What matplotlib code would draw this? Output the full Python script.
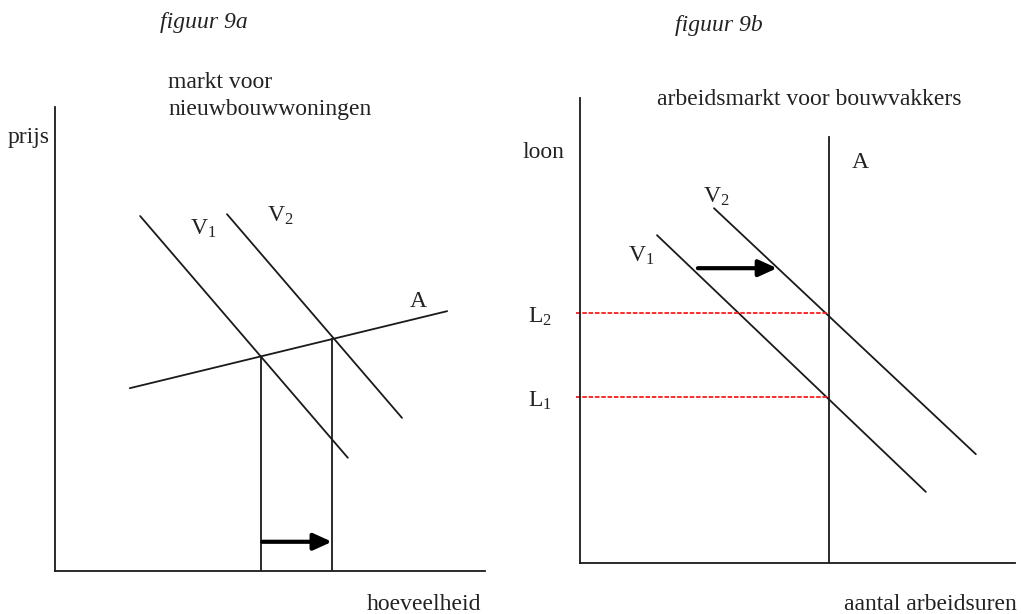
import matplotlib
matplotlib.use("Agg")
import matplotlib.pyplot as plt

plt.rcParams['font.family'] = ['Liberation Serif', 'DejaVu Serif']
plt.rcParams['mathtext.fontset'] = 'custom'
plt.rcParams['mathtext.rm'] = 'Liberation Serif'
plt.rcParams['mathtext.it'] = 'Liberation Serif:italic'

# --- figuur 9a: markt voor nieuwbouwwoningen (schematic units 0..10) ---
v1_a_x = [1.98, 6.81]
v1_a_y = [7.65, 2.44]
v2_a_x = [4.00, 8.07]
v2_a_y = [7.69, 3.30]
aanbod_a_x = [1.74, 9.12]
aanbod_a_y = [3.94, 5.60]
evenwicht_q = [4.79, 6.44]   # hoeveelheid bij V1 en V2
evenwicht_p = [4.61, 5.00]   # prijs bij V1 en V2
pijl_a_y = 0.63

# --- figuur 9b: arbeidsmarkt voor bouwvakkers ---
aanbod_b_x = 5.72
aanbod_b_top = 9.16
v1_b_x = [1.77, 7.95]
v1_b_y = [7.05, 1.53]
v2_b_x = [3.08, 9.10]
v2_b_y = [7.63, 2.34]
lonen = [3.57, 5.38]          # L1, L2
loon_labels = [r'$\mathrm{L}_{1}$', r'$\mathrm{L}_{2}$']
pijl_b_x = [2.71, 4.53]
pijl_b_y = 6.34

W, H = 1023, 614
fig = plt.figure(figsize=(W / 100, H / 100), dpi=100)
fig.patch.set_facecolor('white')

ink = '#1a1a1a'
txt = '#222222'
fs = 17


def make_axes(x0, y0, x1, y1):
    # x0,y0 = origin in pixels (y from top), x1 = end of x-axis, y1 = top of y-axis
    ax = fig.add_axes([x0 / W, 1 - y0 / H, (x1 - x0) / W, (y0 - y1) / H])
    ax.set_xlim(0, 10)
    ax.set_ylim(0, 10)
    for side in ['top', 'right']:
        ax.spines[side].set_visible(False)
    for side in ['left', 'bottom']:
        ax.spines[side].set_color(ink)
        ax.spines[side].set_linewidth(1.3)
    ax.set_xticks([])
    ax.set_yticks([])
    ax.patch.set_alpha(0)
    return ax


def arrow(ax, x0, x1, y):
    ax.annotate('', xy=(x1, y), xytext=(x0, y),
                arrowprops=dict(arrowstyle='-|>,head_length=0.55,head_width=0.25',
                                lw=3.0, color='black', mutation_scale=20,
                                shrinkA=0, shrinkB=0))


def label(ax, x, y, s, **kw):
    ax.text(x, y, s, fontsize=fs, color=txt, va='baseline', clip_on=False, **kw)


# ---------------- figuur 9a ----------------
ax = make_axes(55, 571, 485, 107)
ax.plot(v1_a_x, v1_a_y, color=ink, lw=1.3, solid_capstyle='round')
ax.plot(v2_a_x, v2_a_y, color=ink, lw=1.3, solid_capstyle='round')
ax.plot(aanbod_a_x, aanbod_a_y, color=ink, lw=1.3, solid_capstyle='round')
for q, p in zip(evenwicht_q, evenwicht_p):
    ax.plot([q, q], [0, p], color=ink, lw=1.3)
arrow(ax, evenwicht_q[0] + 0.03, evenwicht_q[1], pijl_a_y)

label(ax, 3.14, 7.24, r'$\mathrm{V}_{1}$')
label(ax, 4.93, 7.52, r'$\mathrm{V}_{2}$')
label(ax, 8.26, 5.69, 'A')
label(ax, -0.12, 9.22, 'prijs', ha='right')
label(ax, 9.91, -0.84, 'hoeveelheid', ha='right')
label(ax, 2.44, 11.70, 'figuur 9a', style='italic')
label(ax, 2.63, 10.41, 'markt voor')
label(ax, 2.63, 9.83, 'nieuwbouwwoningen')

# ---------------- figuur 9b ----------------
bx = make_axes(580, 563, 1015, 98)
bx.plot([aanbod_b_x, aanbod_b_x], [0, aanbod_b_top], color=ink, lw=1.3)
bx.plot(v1_b_x, v1_b_y, color=ink, lw=1.3, solid_capstyle='round')
bx.plot(v2_b_x, v2_b_y, color=ink, lw=1.3, solid_capstyle='round')
for l, s in zip(lonen, loon_labels):
    bx.plot([-0.09, aanbod_b_x], [l, l], color='#ff1a1a', lw=1.3,
            linestyle=(0, (2.5, 1)), clip_on=False)
    label(bx, -1.20, l - 0.21, s)
arrow(bx, pijl_b_x[0], pijl_b_x[1], pijl_b_y)

label(bx, 1.10, 6.49, r'$\mathrm{V}_{1}$')
label(bx, 2.83, 7.74, r'$\mathrm{V}_{2}$')
label(bx, 6.25, 8.49, 'A')
label(bx, -0.37, 8.71, 'loon', ha='right')
label(bx, 10.05, -1.01, 'aantal arbeidsuren', ha='right')
label(bx, 2.18, 11.44, 'figuur 9b', style='italic')
label(bx, 1.77, 9.85, 'arbeidsmarkt voor bouwvakkers')

fig.savefig('out.png', dpi=100, facecolor='white')
